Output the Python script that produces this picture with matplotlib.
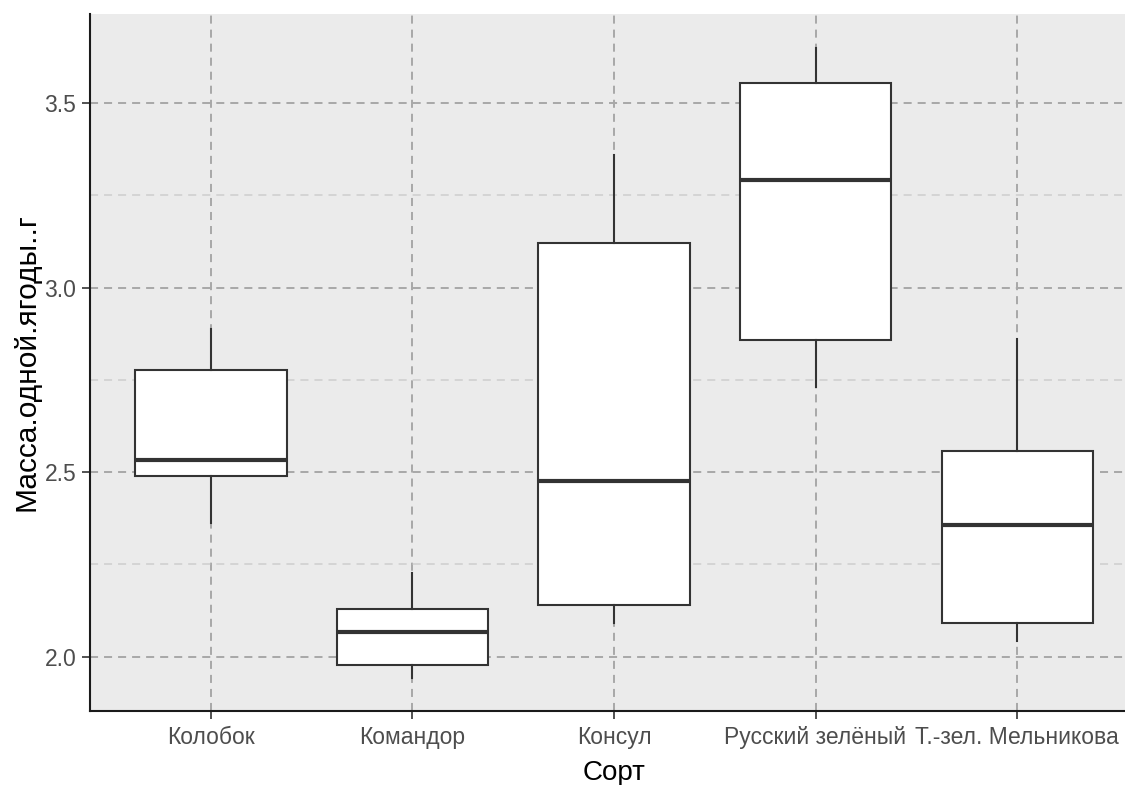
import matplotlib
matplotlib.use("Agg")
import matplotlib.pyplot as plt
from matplotlib.ticker import MultipleLocator, FormatStrFormatter

plt.rcParams['font.family'] = ['Liberation Sans', 'DejaVu Sans']
plt.rcParams['lines.scale_dashes'] = False

# Berry mass by cultivar: five-number summaries
varieties = ["Колобок", "Командор", "Консул", "Русский зелёный", "Т.-зел. Мельникова"]
whisker_low = [2.361, 1.942, 2.092, 2.730, 2.043]
q1 = [2.489, 1.977, 2.141, 2.859, 2.092]
median = [2.534, 2.068, 2.475, 3.291, 2.356]
q3 = [2.778, 2.128, 3.120, 3.555, 2.558]
whisker_high = [2.888, 2.228, 3.359, 3.648, 2.861]

x_title = "Сорт"
y_title = "Масса.одной.ягоды..г"

W, H, DPI = 1125, 785, 100
fig = plt.figure(figsize=(W / DPI, H / DPI), dpi=DPI)
# panel spans a bit past the right edge of the canvas
ax = fig.add_axes([90 / W, (H - 711) / H, (1138 - 90) / W, (711 - 14) / H])
ax.set_facecolor("#EBEBEB")

stats = [
    dict(whislo=lo, q1=a, med=m, q3=b, whishi=hi, fliers=[])
    for lo, a, m, b, hi in zip(whisker_low, q1, median, q3, whisker_high)
]
pos = list(range(1, len(varieties) + 1))
ax.bxp(
    stats, positions=pos, widths=0.75, patch_artist=True, showcaps=False,
    boxprops=dict(facecolor="white", edgecolor="#333333", linewidth=1.5),
    medianprops=dict(color="#333333", linewidth=3.0, solid_capstyle="butt"),
    whiskerprops=dict(color="#333333", linewidth=1.5),
    zorder=3,
)

ax.set_xlim(0.4, 5.6)
ax.set_ylim(1.853, 3.741)
ax.set_xticks(pos)
ax.set_xticklabels(varieties)
ax.yaxis.set_major_locator(MultipleLocator(0.5))
ax.yaxis.set_minor_locator(MultipleLocator(0.25))
ax.yaxis.set_major_formatter(FormatStrFormatter("%.1f"))

dash = (0, (5.8, 4.3))
ax.grid(True, which="major", axis="both", color="#A8A8A8", linewidth=1.4, linestyle=dash, zorder=1)
ax.grid(True, which="minor", axis="y", color="#D0D0D0", linewidth=1.2, linestyle=dash, zorder=1)
ax.set_axisbelow(True)

for side in ("top", "right"):
    ax.spines[side].set_visible(False)
for side in ("left", "bottom"):
    ax.spines[side].set_color("#1a1a1a")
    ax.spines[side].set_linewidth(1.5)

ax.tick_params(axis="both", which="major", length=5.8, width=1.2, color="#333333",
               labelcolor="#4D4D4D", labelsize=16.5)
ax.tick_params(axis="x", which="major", pad=5)
ax.tick_params(axis="y", which="major", pad=4)
ax.tick_params(axis="both", which="minor", length=0)

ax.set_xlabel(x_title, fontsize=20, color="black", labelpad=8)
ax.set_ylabel(y_title, fontsize=21.5, color="black", labelpad=3)

fig.savefig("out.png", dpi=DPI)
